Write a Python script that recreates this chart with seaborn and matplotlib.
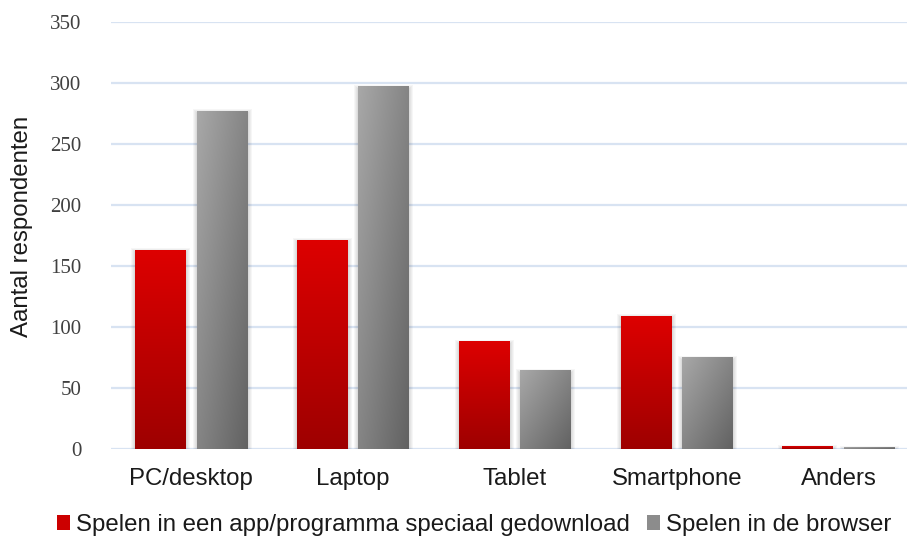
import matplotlib
matplotlib.use("Agg")
import matplotlib.pyplot as plt
import seaborn as sns
import pandas as pd
import numpy as np
from matplotlib.patches import Patch, Rectangle

categories = ["PC/desktop", "Laptop", "Tablet", "Smartphone", "Anders"]
series = ["Spelen in een app/programma speciaal gedownload", "Spelen in de browser"]
app_values = [163, 171, 88, 109, 2]
browser_values = [277, 297, 64, 75, 1]
y_ticks = [0, 50, 100, 150, 200, 250, 300, 350]

df = pd.DataFrame({
    "Apparaat": categories * 2,
    "Manier": [series[0]] * len(categories) + [series[1]] * len(categories),
    "Aantal": app_values + browser_values,
})

sns.set_theme(style="white")
plt.rcParams['font.family'] = ['Liberation Sans', 'DejaVu Sans']

W, H = 907, 542
fig = plt.figure(figsize=(W / 100, H / 100), dpi=100)
ax = fig.add_axes([110.5 / W, 93 / H, 809 / W, 427 / H])

sns.barplot(data=df, x="Apparaat", y="Aantal", hue="Manier", order=categories,
            hue_order=series, width=0.76, gap=0.171,
            palette=["#CC0000", "#8C8C8C"], ax=ax, legend=False,
            saturation=1, zorder=3)

ax.set_xlim(-0.5, 4.5)
ax.set_ylim(0, 350)

# pixel -> data conversion
px_x = 5.0 / 809
px_y = 350.0 / 427

red_grad = np.zeros((64, 2, 3))
top = np.array([221, 0, 0]) / 255
bot = np.array([158, 0, 0]) / 255
for i in range(64):
    t = i / 63
    red_grad[i, :, :] = top * (1 - t) + bot * t

n = 64
u = np.linspace(0, 1, n)[None, :]
v = np.linspace(0, 1, n)[:, None]
s = (u + v) / 2
light = np.array([168, 168, 168]) / 255
dark = np.array([98, 98, 98]) / 255
gray_grad = light[None, None, :] * (1 - s[..., None]) + dark[None, None, :] * s[..., None]

for p in list(ax.patches):
    x0, y0 = p.get_x(), p.get_y()
    w, h = p.get_width(), p.get_height()
    fc = p.get_facecolor()
    is_red = fc[0] > fc[1] + 0.2
    # soft shadow
    for k in range(1, 5):
        ax.add_patch(Rectangle((x0 - k * px_x, y0 - (k + 1) * px_y), w + 2 * k * px_x,
                               h + (2 * k - 1) * px_y, facecolor="black",
                               edgecolor="none", alpha=0.035, zorder=2.5))
    img = red_grad if is_red else gray_grad
    ax.imshow(img, extent=[x0, x0 + w, y0, y0 + h], origin="upper",
              aspect="auto", interpolation="bilinear", zorder=3.2)
    p.set_facecolor("none")
    p.set_edgecolor("none")

ax.set_xlim(-0.5, 4.5)
ax.set_ylim(0, 350)
ax.set_yticks(y_ticks)
ax.set_yticklabels([str(t) for t in y_ticks], family=["Liberation Serif", "DejaVu Serif"],
                   fontsize=15, color="#404040")
ax.set_xticks(range(len(categories)))
ax.set_xticklabels(categories, fontsize=17.3, color="#1a1a1a")
ax.tick_params(axis="y", length=0, pad=21)
ax.tick_params(axis="x", length=0, pad=14)
ax.yaxis.grid(True, color="#D8E3F2", linewidth=1.6, zorder=0)
ax.xaxis.grid(False)
ax.set_axisbelow(True)
for sp in ax.spines.values():
    sp.set_visible(False)
ax.set_xlabel("")
ax.set_ylabel("")
ax.set_facecolor("white")

fig.text(22 / W, 1 - 226.5 / H, "Aantal respondenten", rotation=90, ha="center",
         va="center", fontsize=17.3, color="#1a1a1a")

handles = [Patch(facecolor="#CC0000", edgecolor="none"),
           Patch(facecolor="#8C8C8C", edgecolor="none")]
fig.legend(handles, series, loc="center", bbox_to_anchor=(474 / W, 1 - 525 / H),
           ncol=2, frameon=False, fontsize=17.3, handlelength=0.55, handleheight=0.55,
           handletextpad=0.25, columnspacing=0.7, labelcolor="#1a1a1a")

fig.savefig("out.png", dpi=100, facecolor="white")
